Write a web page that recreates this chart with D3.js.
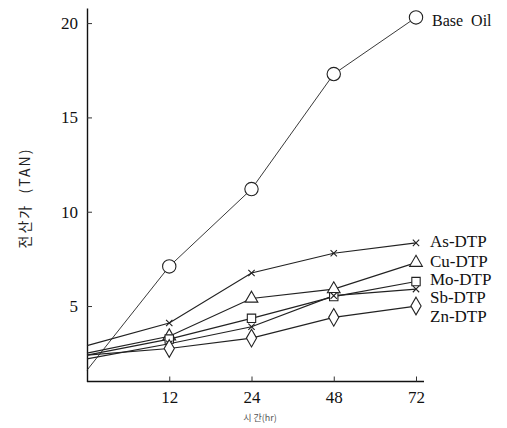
<!DOCTYPE html>
<html><head><meta charset="utf-8">
<script src="https://cdn.jsdelivr.net/npm/d3@7"></script>
<style>body{margin:0;background:#fff}svg{display:block}</style>
</head><body><svg id="c" width="507" height="428"></svg>
<script>
const times = [0, 12, 24, 48, 72];
const xTicks = [12, 24, 48, 72];
const yTicks = [5, 10, 15, 20];
const baseOil = [1.6, 7.1, 11.2, 17.3, 20.3];
const asDTP = [2.9, 4.1, 6.75, 7.8, 8.35];
const cuDTP = [2.5, 3.4, 5.4, 5.9, 7.3];
const moDTP = [2.4, 3.25, 4.35, 5.5, 6.3];
const sbDTP = [2.2, 3.0, 3.9, 5.55, 5.9];
const znDTP = [2.4, 2.75, 3.3, 4.4, 5.0];
const seriesNames = ["Base Oil", "As-DTP", "Cu-DTP", "Mo-DTP", "Sb-DTP", "Zn-DTP"];
const seriesVals = [baseOil, asDTP, cuDTP, moDTP, sbDTP, znDTP];
const seriesSym = ["circle", "times", "triangle", "square", "times", "diamond"];

const svg = d3.select("#c");
const x = d3.scalePoint().domain(times).range([87, 416]);
const y = d3.scaleLinear().domain([1, 20.8]).range([381.5, 8]);
const font = "'Liberation Serif','DejaVu Serif','Times New Roman',serif";

// axes
const xa = svg.append("g").attr("transform", "translate(0,381.5)")
  .call(d3.axisBottom(x).tickValues(xTicks).tickSizeInner(-5).tickSizeOuter(0).tickPadding(9));
xa.attr("font-family", null).attr("font-size", null);
xa.select(".domain").attr("d", "M87,0H424").attr("stroke", "#111").attr("stroke-width", 1.6);
xa.selectAll("text").style("font-family", font).style("font-size", "17px").attr("fill", "#111");
xa.selectAll("line").attr("stroke", "#333");

const ya = svg.append("g").attr("transform", "translate(87,0)")
  .call(d3.axisLeft(y).tickValues(yTicks).tickSizeInner(-5).tickSizeOuter(0).tickPadding(9));
ya.attr("font-family", null).attr("font-size", null);
ya.select(".domain").attr("stroke", "#111").attr("stroke-width", 1.4);
ya.selectAll("text").style("font-family", font).style("font-size", "17px").attr("fill", "#111");
ya.selectAll("line").attr("stroke", "#333");

// lines
const line = d3.line().x((d, i) => x(times[i])).y(d => y(d));
seriesVals.forEach((vals, k) => {
  svg.append("path").attr("d", line(vals)).attr("fill", "none")
    .attr("stroke", "#222").attr("stroke-width", k === 0 ? 0.9 : 1.2);
});

// markers
const symMap = {circle: d3.symbolCircle, times: d3.symbolTimes, triangle: d3.symbolTriangle,
  square: d3.symbolSquare, diamond: d3.symbolDiamond};
const sizeMap = {circle: 140, times: 28, triangle: 70, square: 70, diamond: 90};
seriesVals.forEach((vals, k) => {
  const s = seriesSym[k];
  svg.append("g").selectAll("path").data(vals.slice(1)).join("path")
    .attr("transform", (d, i) => `translate(${x(times[i + 1])},${y(d)})`)
    .attr("d", d3.symbol(symMap[s], sizeMap[s]))
    .attr("fill", "#fff").attr("stroke", "#222").attr("stroke-width", 1.1);
});

// series labels
const labelY = [26, 247, 267, 285, 303, 322];
const labelX = [432, 430, 430, 430, 430, 430];
seriesNames.forEach((n, k) => {
  svg.append("text").attr("x", labelX[k]).attr("y", labelY[k])
    .style("font-family", font).style("font-size", k === 0 ? "16px" : "17px").attr("fill", "#111")
    .style("white-space", "pre").text(k === 0 ? "Base  Oil" : n);
});

// axis titles
svg.append("text").attr("transform", "translate(30,198) rotate(-90)")
  .attr("text-anchor", "middle").style("font-family", "'Noto Sans CJK KR', sans-serif")
  .style("font-size", "14px").style("letter-spacing", "2px").style("white-space", "pre")
  .attr("fill", "#222").text("전산가  (TAN)");
svg.append("text").attr("x", 260).attr("y", 421).attr("text-anchor", "middle")
  .style("font-family", "'Noto Sans CJK KR', sans-serif").style("font-size", "9px").attr("fill", "#555")
  .text("시 간(hr)");
</script></body></html>
